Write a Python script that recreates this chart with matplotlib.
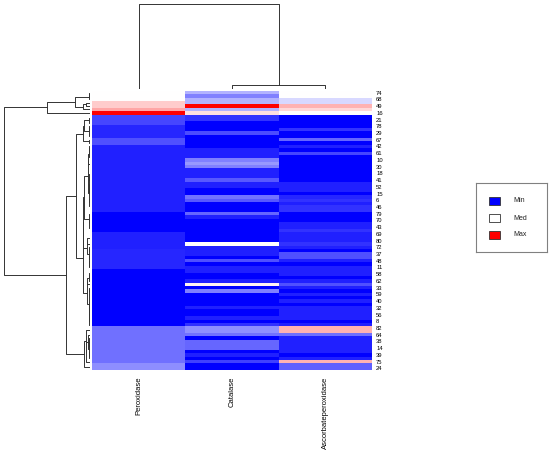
import numpy as np
import matplotlib
matplotlib.use('Agg')
import matplotlib.pyplot as plt
from matplotlib.patches import Rectangle

plt.rcParams['font.family'] = ['Liberation Sans', 'DejaVu Sans']

enzymes = ['Peroxidase', 'Catalase', 'Ascorbateperoxidase']

# sample ids, top to bottom (only every other one is printed, as in the original)
row_ids = [74, 1, 68, 2, 49, 3, 16, 4, 21, 5, 78, 7, 29, 9, 67, 12, 42, 13, 61, 17,
           10, 19, 30, 20, 18, 22, 41, 23, 52, 25, 15, 26, 6, 27, 46, 28, 79, 31, 70, 34,
           43, 35, 69, 36, 80, 44, 72, 45, 37, 47, 48, 50, 11, 51, 58, 53, 62, 54, 33, 55,
           59, 57, 40, 60, 32, 63, 56, 65, 8, 66, 82, 71, 64, 73, 38, 76, 14, 77, 39, 81,
           75, 83, 24]

# colour level per column: -1 = min (blue), 0 = med (white), 1 = max (red)
peroxidase = [0, 0, 0, 0.2, 0.2, 0.35, 1.0,
              -0.72, -0.72, -0.72, -0.85, -0.85, -0.85, -0.85, -0.68, -0.68,
              -0.87, -0.87, -0.87, -0.87, -0.87, -0.87, -0.87, -0.87, -0.87, -0.87,
              -0.87, -0.87, -0.87, -0.87, -0.87, -0.87, -0.87, -0.87, -0.87, -0.87,
              -1, -1, -1, -1, -1, -1,
              -0.87, -0.87, -0.87, -0.87, -0.87,
              -0.85, -0.85, -0.85, -0.85, -0.85, -0.85,
              -1, -1, -1, -1, -1, -1, -1, -1, -1, -1, -1, -1, -1, -1, -1, -1, -1,
              -0.56, -0.56, -0.56, -0.56, -0.56, -0.56, -0.56, -0.56, -0.56, -0.56, -0.56,
              -0.44, -0.44]

catalase = [-0.3, -0.5, -0.3, -0.3, 1.0, -0.3, 0.12,
            -0.8, -0.8, -1, -1, -1, -0.7, -1, -1, -1, -1, -0.87, -0.87, -0.87,
            -0.5, -0.4, -0.5, -0.87, -0.87, -0.87, -0.65, -0.87, -0.87, -1,
            -1, -0.55, -0.65, -1, -1, -1, -0.6, -0.87, -1, -1,
            -1, -1, -1, -1, -1, 0.0, -0.87, -0.87, -0.87, -1,
            -0.68, -1, -0.87, -0.87, -1, -1, -0.87, 0.05, -1, -0.5,
            -1, -1, -1, -1, -0.87, -1, -1, -0.87, -1, -0.8,
            -0.43, -0.43, -0.55, -1, -0.6, -0.6, -0.6, -1, -0.87, -1,
            -0.75, -1, -1]

ascorbate = [0, 0, -0.15, -0.15, 0.3, 0.15, 0,
             -1, -1, -1, -1, -0.8, -1, -1, -0.6, -1, -0.87, -1, -0.72, -1,
             -1, -1, -1, -1, -1, -1, -1, -0.87, -0.87, -0.87,
             -1, -0.85, -0.8, -0.87, -0.8, -0.8, -1, -1, -1, -0.87,
             -0.87, -0.8, -0.87, -0.87, -0.87, -0.8, -0.87, -1, -0.68, -0.68,
             -0.87, -1, -0.87, -0.87, -0.87, -1, -0.87, -0.68, -0.87, -1,
             -0.87, -1, -0.87, -1, -0.87, -0.87, -0.87, -0.87, -1, -0.87,
             0.3, 0.3, -0.56, -0.87, -0.87, -0.87, -0.87, -0.87, -1, -0.87,
             0.3, -0.62, -0.62]

# raw activities are on very different scales; used only for the clustering
activity_scale = [15, 1, 1]


def adjacent_linkage(X):
    # complete linkage, merging only neighbours so the drawn order is kept
    D = np.sqrt(((X[:, None, :] - X[None, :, :]) ** 2).sum(-1))
    clusters = [dict(members=[i], pos=i + 0.5, h=0.0) for i in range(len(X))]
    segs = []
    while len(clusters) > 1:
        dists = [D[np.ix_(clusters[k]['members'], clusters[k + 1]['members'])].max()
                 for k in range(len(clusters) - 1)]
        k = int(np.argmin(dists))
        a, b = clusters[k], clusters[k + 1]
        h = dists[k]
        segs.append((a['pos'], a['h'], b['pos'], b['h'], h))
        clusters[k:k + 2] = [dict(members=a['members'] + b['members'],
                                  pos=(a['pos'] + b['pos']) / 2, h=h)]
    return segs, clusters[0]['h']


M = np.column_stack([peroxidase, catalase, ascorbate])
raw = (M + 1) * np.array(activity_scale)
nrow, ncol = M.shape

W, H = 550, 454
fig = plt.figure(figsize=(W / 100, H / 100), dpi=100)


def box(x0, y0, x1, y1):
    return [x0 / W, 1 - y1 / H, (x1 - x0) / W, (y1 - y0) / H]


# heatmap
ax = fig.add_axes(box(92, 91, 372, 370))
ax.pcolormesh(M, cmap='bwr', vmin=-1, vmax=1)
ax.set_xlim(0, ncol)
ax.set_ylim(nrow, 0)
for s in ax.spines.values():
    s.set_visible(False)
ax.yaxis.tick_right()
ax.set_yticks(np.arange(0, nrow, 2) + 0.5)
ax.set_yticklabels([str(r) for r in row_ids[::2]], fontsize=4.2)
ax.set_xticks(np.arange(ncol) + 0.5)
ax.set_xticklabels(enzymes, rotation=90, fontsize=5.5, va='top')
ax.tick_params(length=0, pad=3)
ax.tick_params(axis='x', pad=5)

# row dendrogram
segs, top = adjacent_linkage(raw)
axr = fig.add_axes(box(3, 91, 90, 370))
for pa, ha, pb, hb, h in segs:
    axr.plot([ha, h, h, hb], [pa, pa, pb, pb], color='#333333', lw=0.7)
axr.set_xlim(top * 1.01, 0)
axr.set_ylim(nrow, 0)
axr.axis('off')

# column dendrogram
segs, top = adjacent_linkage(raw.T)
axc = fig.add_axes(box(92, 3, 372, 89))
for pa, ha, pb, hb, h in segs:
    axc.plot([pa, pa, pb, pb], [ha, h, h, hb], color='#333333', lw=0.7)
axc.set_xlim(0, ncol)
axc.set_ylim(0, top * 1.01)
axc.axis('off')

# legend
axl = fig.add_axes(box(476, 183, 547, 252))
axl.set_xlim(0, 71)
axl.set_ylim(69, 0)
axl.set_xticks([])
axl.set_yticks([])
for s in axl.spines.values():
    s.set_color('#808080')
for i, (lab, col) in enumerate(zip(['Min', 'Med', 'Max'], ['blue', 'white', 'red'])):
    y = 14 + i * 17
    axl.add_patch(Rectangle((13, y), 11, 8, facecolor=col, edgecolor='#333333', lw=0.6))
    axl.text(37, y + 4, lab, fontsize=5, va='center', ha='left', color='#222222')

fig.savefig('out.png', dpi=100)
